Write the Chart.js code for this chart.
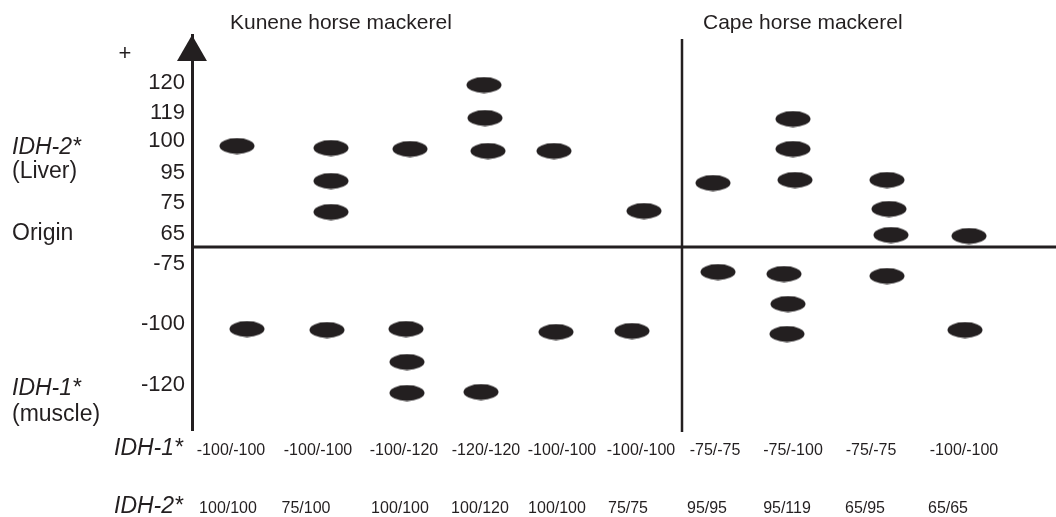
<!DOCTYPE html>
<html>
<head>
<meta charset="utf-8">
<script src="https://cdn.jsdelivr.net/npm/chart.js@4.4.1/dist/chart.umd.min.js"></script>
<style>
  html, body { margin: 0; padding: 0; background: #fff; overflow: hidden; }
  #chart { display: block; }
</style>
</head>
<body>
<canvas id="chart" width="1056" height="517"></canvas>
<script>
// zymogram of IDH in horse mackerel, band positions in gel units (origin = 0)
const species = ['Kunene horse mackerel', 'Cape horse mackerel'];
const idh1Genotypes = ['-100/-100', '-100/-100', '-100/-120', '-120/-120', '-100/-100', '-100/-100', '-75/-75', '-75/-100', '-75/-75', '-100/-100'];
const idh2Genotypes = ['100/100', '75/100', '100/100', '100/120', '100/100', '75/75', '95/95', '95/119', '65/95', '65/65'];

// IDH-2* (liver) bands, above origin
const liverX = [4.5, 13.9, 13.9, 13.9, 21.8, 29.2, 29.3, 29.6, 36.2, 45.2, 52.1, 60.1, 60.1, 60.3, 69.5, 69.7, 69.9, 77.7];
const liverY = [10.1, 9.9, 6.6, 3.5, 9.8, 16.2, 12.9, 9.6, 9.6, 3.6, 6.4, 12.8, 9.8, 6.7, 6.7, 3.8, 1.2, 1.1];
// IDH-1* (muscle) bands, below origin
const muscleX = [5.5, 13.5, 21.4, 21.5, 21.5, 28.9, 36.4, 44.0, 52.6, 59.2, 59.6, 59.5, 69.5, 77.3];
const muscleY = [-8.2, -8.3, -8.2, -11.5, -14.6, -14.5, -8.5, -8.4, -2.5, -2.7, -5.7, -8.7, -2.9, -8.3];

// allele labels on the left axis
const yTickLabels = ['120', '119', '100', '95', '75', '65', '-75', '-100', '-120'];
const yTickPos = [16.45, 13.45, 10.6, 7.4, 4.4, 1.3, -1.65, -7.65, -13.8];

// layout
const speciesLabelX = [3.8, 51.1];
const idh1LabelX = [3.9, 12.6, 21.2, 29.4, 37.0, 44.9, 52.3, 60.1, 67.9, 77.2];
const idh2LabelX = [3.6, 11.4, 20.8, 28.8, 36.5, 43.6, 51.5, 59.5, 67.3, 75.6];
const dividerX = 49.0;
const ink = '#231f20';
const fontFam = '"Liberation Sans", Arial, Helvetica, sans-serif';

// band shape used as point style
const band = document.createElement('canvas');
band.width = 36;
band.height = 17;
const bctx = band.getContext('2d');
bctx.fillStyle = ink;
bctx.beginPath();
bctx.ellipse(18, 8.5, 17.5, 7.9, 0, 0, Math.PI * 2);
bctx.fill();

const textPlugin = {
  id: 'gelText',
  afterDraw(chart) {
    const c = chart.ctx;
    const x = chart.scales.x;
    c.save();
    c.fillStyle = ink;
    c.textBaseline = 'alphabetic';

    c.font = '21px ' + fontFam;
    c.textAlign = 'left';
    species.forEach((s, i) => c.fillText(s, x.getPixelForValue(speciesLabelX[i]), 28.5));

    c.font = '23px ' + fontFam;
    c.fillText('(Liver)', 12, 178);
    c.fillText('Origin', 12, 240);
    c.fillText('(muscle)', 12, 421);
    c.font = 'italic 23px ' + fontFam;
    c.fillText('IDH-2*', 12, 154);
    c.fillText('IDH-1*', 12, 395);

    c.textAlign = 'right';
    c.fillText('IDH-1*', 183, 455);
    c.fillText('IDH-2*', 183, 513);

    c.textAlign = 'center';
    c.font = '22px ' + fontFam;
    c.fillText('+', 125, 60);

    c.font = '16px ' + fontFam;
    idh1Genotypes.forEach((g, i) => c.fillText(g, x.getPixelForValue(idh1LabelX[i]), 455));
    idh2Genotypes.forEach((g, i) => c.fillText(g, x.getPixelForValue(idh2LabelX[i]), 513));
    c.restore();
  }
};

const toPts = (xs, ys) => xs.map((v, i) => ({ x: v, y: ys[i] }));

new Chart(document.getElementById('chart'), {
  type: 'scatter',
  data: {
    datasets: [
      {
        label: 'IDH-2* (liver)',
        data: toPts(liverX, liverY),
        pointStyle: band,
        pointRadius: 9,
        clip: false
      },
      {
        label: 'IDH-1* (muscle)',
        data: toPts(muscleX, muscleY),
        pointStyle: band,
        pointRadius: 9,
        clip: false
      },
      {
        label: 'origin',
        data: [{ x: 0, y: 0 }, { x: 86.4, y: 0 }],
        showLine: true,
        borderColor: ink,
        borderWidth: 3,
        pointRadius: 0
      },
      {
        label: 'divider',
        data: [{ x: dividerX, y: -18.5 }, { x: dividerX, y: 20.8 }],
        showLine: true,
        borderColor: ink,
        borderWidth: 2.5,
        pointRadius: 0,
        clip: false
      },
      {
        label: 'arrow',
        data: [{ x: 0, y: 19.47 }],
        pointStyle: 'triangle',
        pointRadius: 17.3,
        backgroundColor: ink,
        borderWidth: 0,
        clip: false
      }
    ]
  },
  options: {
    responsive: false,
    animation: false,
    devicePixelRatio: 1,
    layout: { autoPadding: false, padding: { left: 0, right: 0, top: 35, bottom: 87 } },
    plugins: {
      legend: { display: false },
      tooltip: { enabled: false }
    },
    scales: {
      x: { type: 'linear', min: 0, max: 86.4, display: false },
      y: {
        type: 'linear',
        min: -18.3,
        max: 21.2,
        afterBuildTicks: s => { s.ticks = yTickPos.map(v => ({ value: v })); },
        afterFit: s => { s.width = 192; },
        grid: { display: false, drawTicks: false },
        border: { display: true, color: ink, width: 3 },
        ticks: {
          autoSkip: false,
          padding: 7,
          color: ink,
          font: { family: fontFam, size: 22 },
          callback: (v, i) => yTickLabels[i]
        }
      }
    }
  },
  plugins: [textPlugin]
});
</script>
</body>
</html>
